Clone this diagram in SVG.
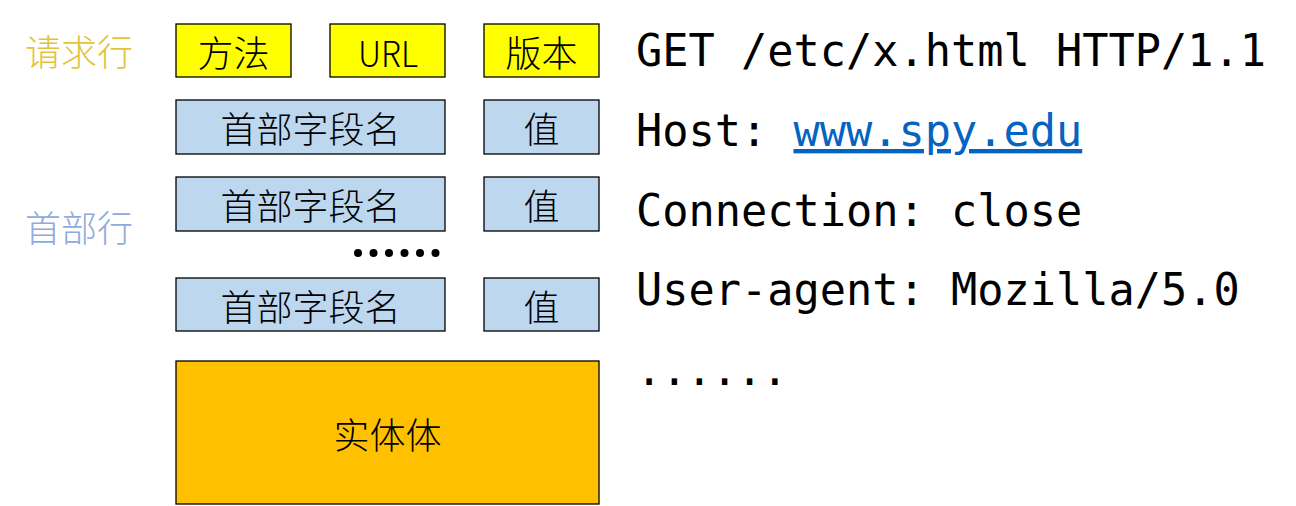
<svg xmlns="http://www.w3.org/2000/svg" width="1296" height="506" viewBox="0 0 1296 506">
<style>
.box{stroke:#000;stroke-width:1.3}
.y{fill:#FFFF00}
.b{fill:#BDD7EE}
.o{fill:#FFC000}
.t{font-family:"Noto Sans CJK SC","Liberation Sans",sans-serif;font-size:36px;font-weight:300;fill:#000;text-anchor:middle;dominant-baseline:central}
.lab{font-family:"Noto Sans CJK SC",sans-serif;font-size:36px;font-weight:300;dominant-baseline:central}
.m{font-family:"DejaVu Sans Mono","Liberation Mono",monospace;font-size:43.6px;fill:#000}
</style>
<rect width="1296" height="506" fill="#fff"/>
<text class="lab" x="25" y="50" fill="#E2C43A">请求行</text>
<text class="lab" x="25" y="226" fill="#8FAADC">首部行</text>
<g id="method"><rect class="box y" x="176" y="24" width="115" height="53"/><text class="t" x="233.5" y="50.5">方法</text></g>
<g id="url"><rect class="box y" x="330" y="24" width="115" height="53"/><text class="t" x="388" y="50.5" textLength="60" lengthAdjust="spacingAndGlyphs">URL</text></g>
<g id="version"><rect class="box y" x="484" y="24" width="115" height="53"/><text class="t" x="541.5" y="50.5">版本</text></g>
<g id="h1name"><rect class="box b" x="176" y="100" width="269" height="54"/><text class="t" x="310.5" y="127">首部字段名</text></g>
<g id="h1val"><rect class="box b" x="484" y="100" width="115" height="54"/><text class="t" x="541.5" y="127">值</text></g>
<g id="h2name"><rect class="box b" x="176" y="177" width="269" height="54"/><text class="t" x="310.5" y="204">首部字段名</text></g>
<g id="h2val"><rect class="box b" x="484" y="177" width="115" height="54"/><text class="t" x="541.5" y="204">值</text></g>
<g id="dots" fill="#000"><circle cx="358" cy="253" r="4"/><circle cx="373.5" cy="253" r="4"/><circle cx="389" cy="253" r="4"/><circle cx="404.5" cy="253" r="4"/><circle cx="420" cy="253" r="4"/><circle cx="435.5" cy="253" r="4"/></g>
<g id="h3name"><rect class="box b" x="176" y="278" width="269" height="53"/><text class="t" x="310.5" y="304.5">首部字段名</text></g>
<g id="h3val"><rect class="box b" x="484" y="278" width="115" height="53"/><text class="t" x="541.5" y="304.5">值</text></g>
<g id="body"><rect class="box o" x="176" y="361" width="423" height="143"/><text class="t" x="387.5" y="433">实体体</text></g>
<g id="example">
<text class="m" x="636" y="66">GET /etc/x.html HTTP/1.1</text>
<text class="m" x="636" y="146">Host: <tspan fill="#0563C1" text-decoration="underline">www.spy.edu</tspan></text>
<text class="m" x="636" y="226">Connection: close</text>
<text class="m" x="636" y="305">User-agent: Mozilla/5.0</text>
<text class="m" x="636" y="385" textLength="152" lengthAdjust="spacing">......</text>
</g>
<g id="connectors"/>
</svg>
